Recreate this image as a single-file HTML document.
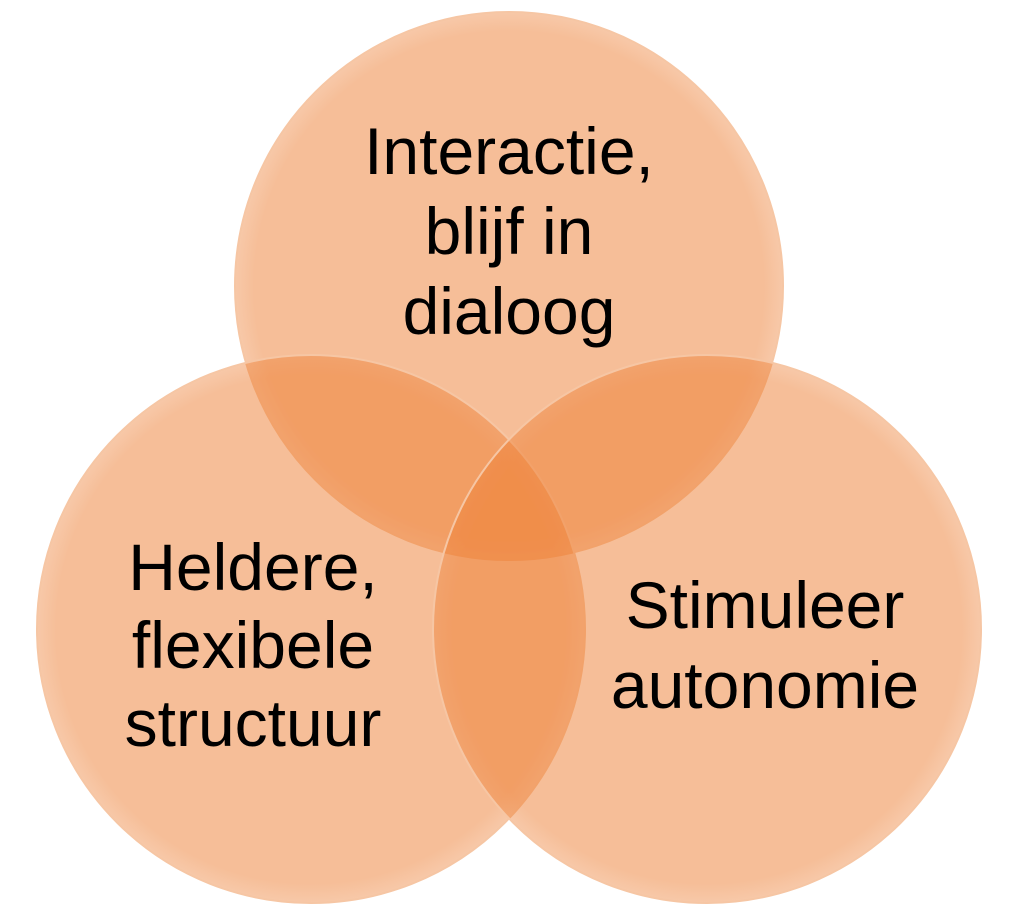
<!DOCTYPE html>
<html><head><meta charset="utf-8"><style>
html,body{margin:0;padding:0;background:#fff;width:1018px;height:914px;overflow:hidden}
</style></head><body>
<svg width="1018" height="914" xmlns="http://www.w3.org/2000/svg">
<defs>
<radialGradient id="g" cx="50%" cy="50%" r="50%">
<stop offset="0.93" stop-color="#ED7D31" stop-opacity="0.5"/>
<stop offset="1" stop-color="#ED7D31" stop-opacity="0.42"/>
</radialGradient>
</defs>
<circle cx="509" cy="286" r="274" fill="url(#g)" stroke="#f6c6a4" stroke-width="2"/>
<circle cx="311" cy="629" r="274" fill="url(#g)" stroke="#f6c6a4" stroke-width="2"/>
<circle cx="707" cy="629" r="274" fill="url(#g)" stroke="#f6c6a4" stroke-width="2"/>
<g font-family="Liberation Sans, sans-serif" font-size="66" fill="#000" text-anchor="middle">
<text x="509" y="174">Interactie,</text>
<text x="509" y="254">blijf in</text>
<text x="509" y="334">dialoog</text>
<text x="253" y="590">Heldere,</text>
<text x="253" y="668">flexibele</text>
<text x="253" y="746">structuur</text>
<text x="765" y="628">Stimuleer</text>
<text x="765" y="708">autonomie</text>
</g>
</svg>
</body></html>
